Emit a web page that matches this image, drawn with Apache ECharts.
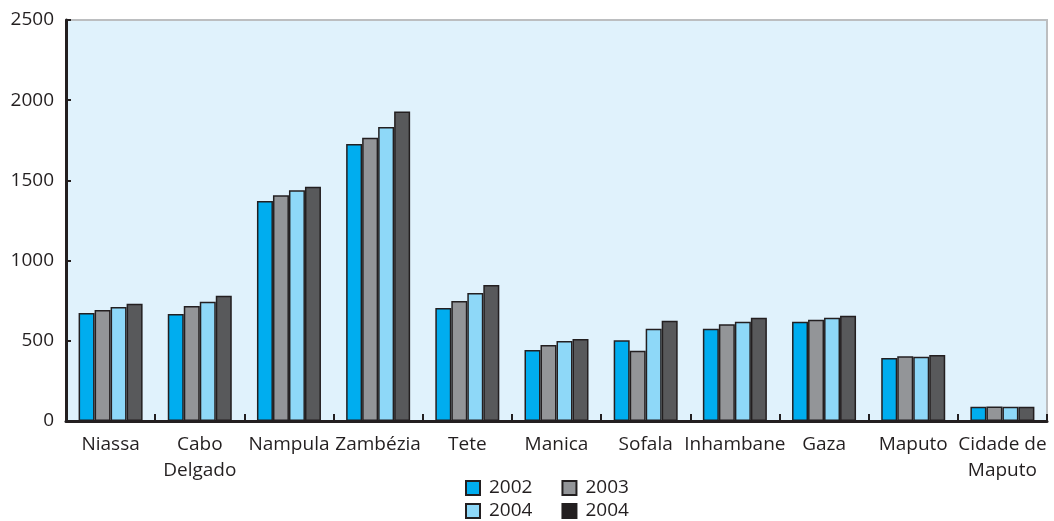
<!DOCTYPE html>
<html>
<head>
<meta charset="utf-8">
<script src="https://cdn.jsdelivr.net/npm/echarts@6/dist/echarts.min.js"></script>
<style>
  html, body { margin: 0; padding: 0; background: #fff; }
  #chart { width: 1054px; height: 521px; }
</style>
</head>
<body>
<div id="chart"></div>
<script>
// categorias (províncias)
const provincias = ['Niassa', 'Cabo\nDelgado', 'Nampula', 'Zambézia', 'Tete', 'Manica',
  'Sofala', 'Inhambane', 'Gaza', 'Maputo', 'Cidade de\nMaputo']

// chaves das séries e rótulos da legenda (o último ano aparece duas vezes no original)
const serieKeys = ['s2002', 's2003', 's2004a', 's2004b']
const serieLabels = ['2002', '2003', '2004', '2004']

const v2002 = [673, 667, 1372, 1727, 704, 443, 503, 575, 619, 393, 89]
const v2003 = [692, 717, 1407, 1766, 748, 474, 438, 603, 632, 403, 90]
const v2004a = [711, 744, 1438, 1833, 798, 499, 575, 619, 644, 401, 89]
const v2004b = [731, 781, 1461, 1929, 848, 511, 625, 644, 656, 411, 89]

const yTicks = [0, 500, 1000, 1500, 2000, 2500]

const valores = [v2002, v2003, v2004a, v2004b]
const cores = ['#00adef', '#939598', '#8ed8f8', '#58595b']
const coresLegenda = ['#00adef', '#939598', '#8ed8f8', '#231f20']

const fonte = '"Open Sans", sans-serif'
const escuro = '#231f20'

const chart = echarts.init(document.getElementById('chart'))

const legendaBase = {
  orient: 'horizontal',
  left: 460,
  itemWidth: 14,
  itemHeight: 14,
  itemGap: 29,
  icon: 'rect',
  textStyle: { fontFamily: fonte, fontSize: 19, lineHeight: 20, color: escuro, padding: [0, 0, 0, 4] },
  formatter: name => serieLabels[serieKeys.indexOf(name)],
  selectedMode: false
}

chart.setOption({
  animation: false,
  grid: {
    left: 66, right: 7, top: 20, bottom: 100,
    show: true,
    backgroundColor: '#e0f2fc',
    borderColor: '#bcbec0',
    borderWidth: 2
  },
  legend: [
    Object.assign({}, legendaBase, {
      top: 473,
      data: [0, 1].map(i => ({ name: serieKeys[i], itemStyle: { color: coresLegenda[i] } }))
    }),
    Object.assign({}, legendaBase, {
      top: 496,
      data: [2, 3].map(i => ({ name: serieKeys[i], itemStyle: { color: coresLegenda[i] } }))
    })
  ],
  xAxis: {
    type: 'category',
    data: provincias,
    axisLine: { lineStyle: { color: escuro, width: 3 } },
    axisTick: { show: true, inside: true, length: 7, lineStyle: { color: escuro, width: 2 } },
    axisLabel: {
      fontFamily: fonte, fontSize: 19, color: escuro, margin: 11, lineHeight: 26, interval: 0
    }
  },
  yAxis: {
    type: 'value',
    min: yTicks[0],
    max: yTicks[yTicks.length - 1],
    interval: yTicks[1] - yTicks[0],
    splitLine: { show: false },
    axisLine: { show: true, lineStyle: { color: escuro, width: 3 } },
    axisTick: { show: true, inside: true, length: 5, lineStyle: { color: escuro, width: 2 } },
    axisLabel: { fontFamily: fonte, fontSize: 19, color: escuro, margin: 12, formatter: v => String(v) }
  },
  series: serieKeys.map((k, i) => ({
    name: k,
    type: 'bar',
    data: valores[i],
    barWidth: 16,
    barGap: '0%',
    itemStyle: { color: cores[i], borderColor: escuro, borderWidth: 1.5 }
  }))
})

window.addEventListener('resize', () => chart.resize())
</script>
</body>
</html>
